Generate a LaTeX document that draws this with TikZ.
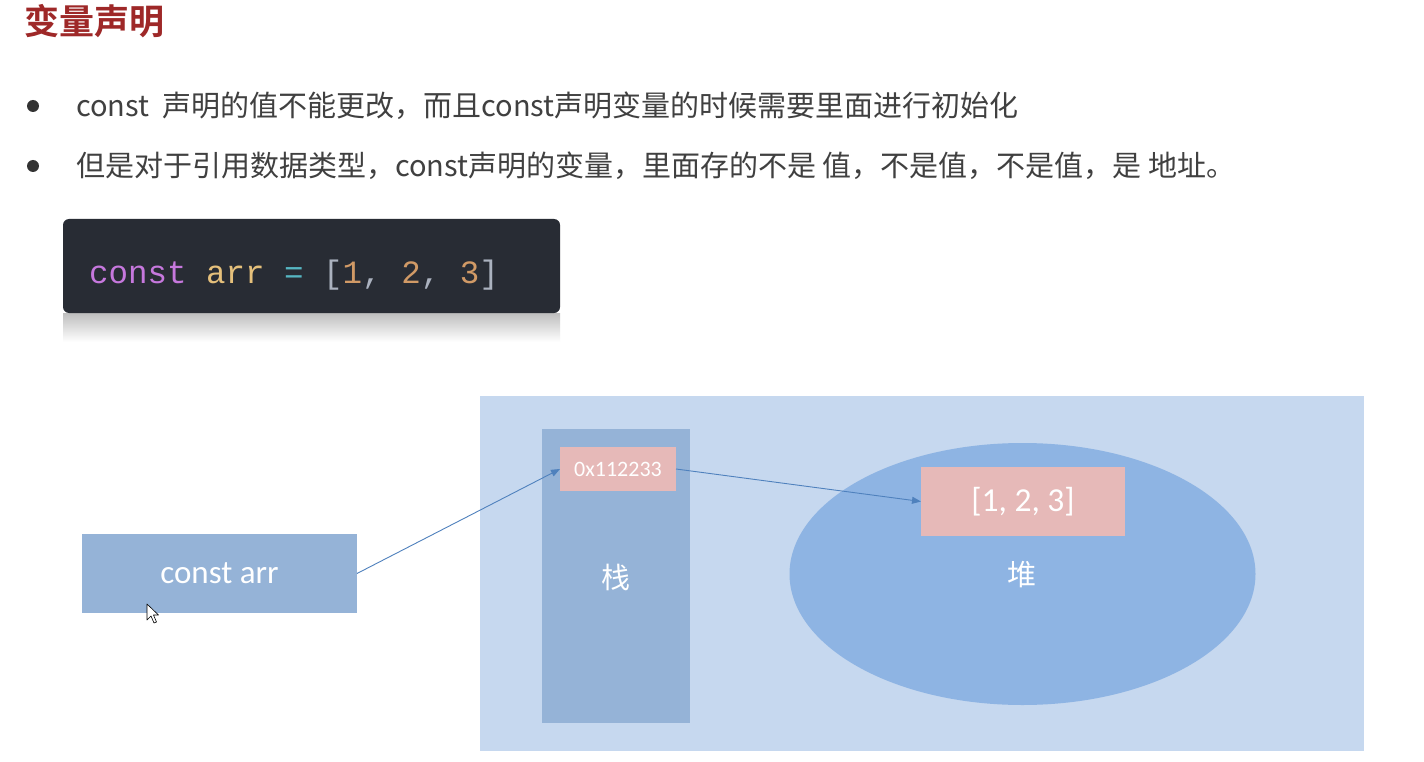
\documentclass[tikz,border=0pt]{standalone}
\usepackage{fontspec}
\setmainfont{Carlito}
\newfontfamily\cjkfont[BoldFont={Noto Sans CJK SC Bold}]{Noto Sans CJK SC}
\newfontfamily\calfont{Carlito}
\newfontfamily\codefont{Liberation Mono}
\usetikzlibrary{shapes.geometric,arrows.meta}
\definecolor{titlered}{RGB}{158,40,40}
\definecolor{bodytext}{HTML}{404040}
\definecolor{dotgray}{HTML}{333333}
\definecolor{codebg}{RGB}{40,44,52}
\definecolor{kwpurple}{HTML}{C678DD}
\definecolor{varyellow}{HTML}{E5C07B}
\definecolor{opcyan}{HTML}{56B6C2}
\definecolor{brgray}{HTML}{ABB2BF}
\definecolor{numorange}{HTML}{D19A66}
\definecolor{memback}{HTML}{C6D8EF}
\definecolor{stackblue}{HTML}{95B3D7}
\definecolor{heapblue}{HTML}{8EB4E3}
\definecolor{cellpink}{HTML}{E6B9B8}
\definecolor{linkblue}{HTML}{4F81BD}
\tikzset{
  flat/.style={draw=none, inner sep=0pt, outer sep=0pt},
  cellbox/.style={flat, rectangle, fill=cellpink, text=white},
  bluebox/.style={flat, rectangle, fill=stackblue, text=white},
  bullettext/.style={anchor=west, inner sep=0pt, text=bodytext, font=\cjkfont\fontsize{29}{32}\selectfont},
  bulletdot/.style={circle, fill=dotgray, minimum size=12pt, inner sep=0pt},
  link/.style={draw=linkblue, line width=0.9pt, -{Triangle[length=9pt,width=7pt]}},
}
\begin{document}
\begin{tikzpicture}[x=1pt,y=-1pt]
\useasboundingbox (0,0) rectangle (1424,762);
\fill[white] (0,0) rectangle (1424,762);
% title
\node[anchor=west, inner sep=0pt, text=titlered, font=\cjkfont\bfseries\fontsize{35}{40}\selectfont] (title) at (24,21) {变量声明};
% bullets
\node[bulletdot] (d1) at (33,106) {};
\node[bullettext] (b1) at (76,106) {const\ \ 声明的值不能更改，而且const声明变量的时候需要里面进行初始化};
\node[bulletdot] (d2) at (33,166) {};
\node[bullettext] (b2) at (76,166) {但是对于引用数据类型，const声明的变量，里面存的不是 值，不是值，不是值，是 地址。};
% code box with reflection
\shade[top color={rgb,255:red,190;green,190;blue,190}, bottom color=white] (63,313) rectangle (560,342);
\node[flat, rectangle, rounded corners=6pt, fill=codebg, minimum width=497pt, minimum height=94pt] (code) at (311.5,266) {};
\node[anchor=base west, inner sep=0pt, font=\codefont\fontsize{32.5}{36}\selectfont] (codetext) at (89,283)
  {\textcolor{kwpurple}{const} \textcolor{varyellow}{arr} \textcolor{opcyan}{=} \textcolor{brgray}{[}\textcolor{numorange}{1}\textcolor{brgray}{,} \textcolor{numorange}{2}\textcolor{brgray}{,} \textcolor{numorange}{3}\textcolor{brgray}{]}};
% memory area
\node[flat, rectangle, fill=memback, minimum width=884pt, minimum height=355pt] (mem) at (922,573.5) {};
\node[bluebox, minimum width=148pt, minimum height=294pt] (stack) at (616,576) {};
\node[text=white, inner sep=0pt, font=\cjkfont\fontsize{29}{30}\selectfont] (stacklabel) at (616,577) {栈};
\node[flat, ellipse, fill=heapblue, minimum width=466pt, minimum height=262pt] (heap) at (1022.5,574) {};
\node[text=white, inner sep=0pt, font=\cjkfont\fontsize{29}{30}\selectfont] (heaplabel) at (1022,575) {堆};
\node[cellbox, minimum width=116pt, minimum height=44pt, font=\calfont\fontsize{22}{24}\selectfont] (addr) at (618,469) {0x112233};
\node[cellbox, minimum width=204pt, minimum height=69pt, font=\calfont\fontsize{33.5}{36}\selectfont] (val) at (1023,501.5) {[1, 2, 3]};
% variable box
\node[bluebox, minimum width=275pt, minimum height=79pt, font=\calfont\fontsize{33}{36}\selectfont] (var) at (219.5,573.5) {const arr};
% connectors
\draw[link] (var.east) -- (addr.west);
\draw[link] (addr.east) -- (val.west);
% mouse cursor
\draw[fill=white, draw=black, line width=0.6pt, line join=round]
  (147,604) -- (147,620) -- (151,616) -- (154,623) -- (156.5,622) -- (153.5,615) -- (158.5,615) -- cycle;
\end{tikzpicture}
\end{document}
